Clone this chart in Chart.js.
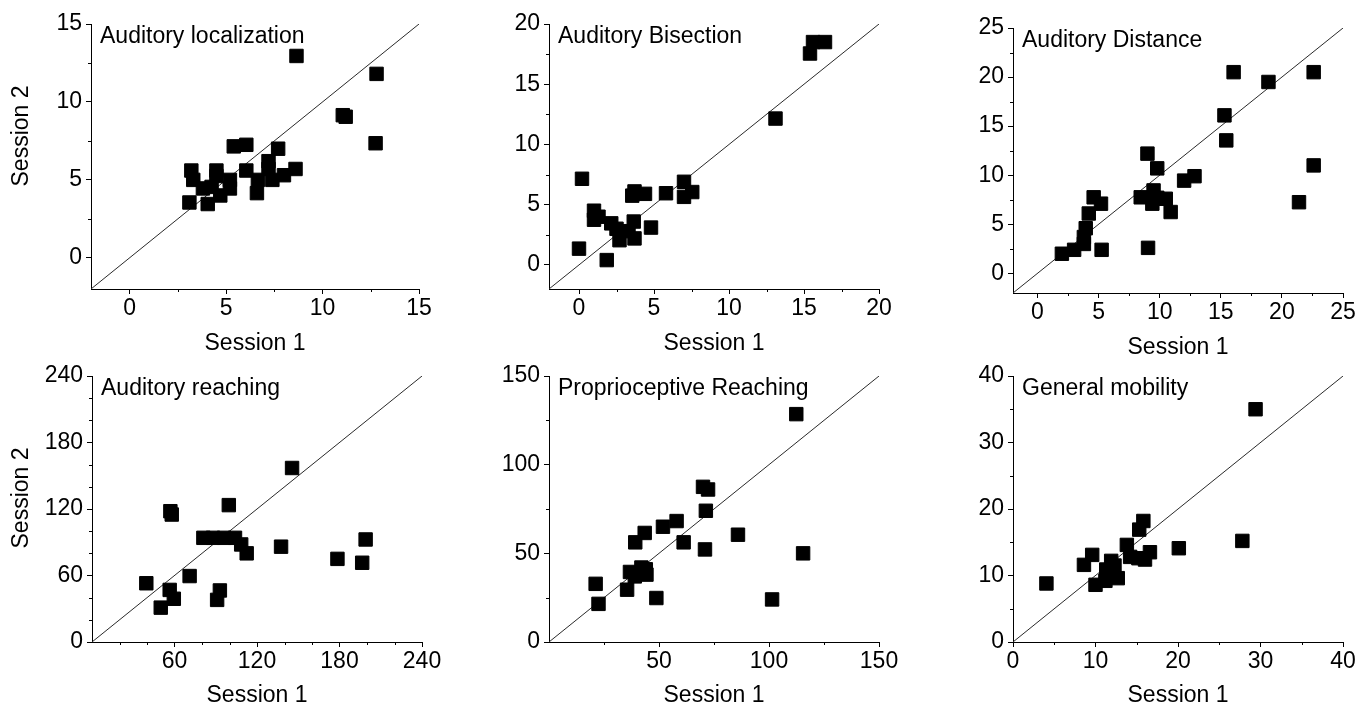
<!DOCTYPE html>
<html>
<head>
<meta charset="utf-8">
<script src="https://cdn.jsdelivr.net/npm/chart.js@4.4.1/dist/chart.umd.min.js"></script>
<style>
  html, body { margin: 0; padding: 0; background: #fff; overflow: hidden; }
  body { position: relative; width: 1370px; height: 707px; }
</style>
</head>
<body>
<script>
// ---------- DATA ----------
const panelTitles = ["Auditory localization", "Auditory Bisection", "Auditory Distance",
                     "Auditory reaching", "Proprioceptive Reaching", "General mobility"];
const xAxisTitle = "Session 1";
const yAxisTitle = "Session 2";

// Auditory localization
const locS1 = [8.65, 12.8, 11.05, 11.2, 12.75, 5.4, 6.05, 7.7, 7.2, 7.2, 8.6, 8.0, 6.65, 6.6, 6.05, 4.5, 4.5, 3.2, 3.3, 3.1, 4.05, 4.25, 5.2, 5.2, 4.7, 7.4, 3.8];
const locS2 = [12.95, 11.8, 9.15, 9.05, 7.35, 7.15, 7.25, 7.0, 6.2, 5.7, 5.7, 5.3, 5.0, 4.15, 5.6, 5.6, 5.25, 5.6, 5.0, 3.55, 3.45, 4.55, 5.0, 4.45, 4.0, 5.0, 4.45];
// Auditory Bisection
const bisS1 = [0.2, 0.0, 1.85, 1.0, 1.0, 1.3, 2.15, 2.5, 2.7, 3.3, 3.65, 3.7, 4.8, 3.55, 3.7, 4.4, 5.8, 7.0, 7.0, 7.55, 13.1, 15.4, 15.6, 16.4];
const bisS2 = [7.15, 1.35, 0.4, 4.5, 3.75, 4.0, 3.45, 3.0, 2.05, 2.8, 3.6, 2.2, 3.1, 5.75, 6.1, 5.9, 5.95, 6.9, 5.65, 6.05, 12.15, 17.55, 18.5, 18.5];
// Auditory Distance
const disS1 = [2.0, 3.0, 3.8, 3.8, 3.95, 4.2, 4.6, 5.2, 5.25, 8.45, 9.0, 9.05, 9.4, 9.5, 9.8, 9.8, 10.5, 10.9, 12.0, 12.85, 15.3, 15.45, 16.05, 18.9, 21.4, 22.6, 22.6];
const disS2 = [2.0, 2.4, 3.0, 3.7, 4.6, 6.1, 7.75, 7.1, 2.4, 7.75, 12.2, 2.6, 7.1, 8.45, 7.7, 10.7, 7.6, 6.25, 9.45, 9.9, 16.1, 13.55, 20.5, 19.5, 7.25, 20.5, 11.0];
// Auditory reaching
const reaS1 = [39.5, 50, 56.5, 59.5, 57, 58, 71, 81, 88, 91, 93, 96, 99.5, 104, 108.5, 112.5, 137.5, 145.5, 178.5, 196.5, 199];
const reaS2 = [53, 31, 47, 39, 118, 115, 59.5, 94, 94, 38, 46.5, 94, 123.5, 94, 88, 80, 86, 157, 75, 71.5, 92.5];
// Proprioceptive Reaching
const proS1 = [21.2, 22.5, 35.5, 36.8, 39, 42, 44.3, 44, 39.2, 43.5, 48.8, 51.8, 58, 61.2, 70, 72.3, 71.3, 70.9, 85.9, 101.4, 112.4, 115.5];
const proS2 = [32.8, 21.5, 29.5, 39.5, 37, 42, 38, 41, 56.2, 61.5, 24.8, 65, 68.2, 56.2, 87.5, 86, 74, 52.2, 60.5, 24, 128.5, 50];
// General mobility
const mobS1 = [4.05, 8.6, 9.6, 10.0, 11.2, 11.3, 11.9, 12.7, 12.3, 13.8, 14.2, 15.3, 15.8, 15.2, 16.0, 16.6, 20.1, 27.8, 29.4];
const mobS2 = [8.8, 11.6, 13.1, 8.6, 9.2, 10.9, 12.2, 9.6, 11.5, 14.6, 12.8, 16.9, 18.2, 12.6, 12.4, 13.5, 14.1, 15.2, 35.0];

// Axis ranges and tick labels
const rangeLoc = [-2, 15], rangeBis = [-2, 20], rangeDis = [-2, 25];
const rangeRea = [0, 240], rangePro = [0, 150], rangeMob = [0, 40];
const ticksLoc = [0, 5, 10, 15],        minorLoc = [2.5, 7.5, 12.5];
const ticksBis = [0, 5, 10, 15, 20],    minorBis = [2.5, 7.5, 12.5, 17.5];
const ticksDis = [0, 5, 10, 15, 20, 25], minorDis = [2.5, 7.5, 12.5, 17.5, 22.5];
const ticksReaX = [60, 120, 180, 240], ticksReaY = [0, 60, 120, 180, 240];
const minorRea = [20, 40, 80, 100, 140, 160, 200, 220];
const ticksProX = [50, 100, 150], ticksProY = [0, 50, 100, 150], minorPro = [25, 75, 125];
const ticksMob = [0, 10, 20, 30, 40], minorMob = [5, 15, 25, 35];

// ---------- LAYOUT ----------
const FAMILY = "'Liberation Sans', Arial, Helvetica, sans-serif";
const FS = 23;
const panels = [
  { title: panelTitles[0], s1: locS1, s2: locS2, range: rangeLoc, xt: ticksLoc, yt: ticksLoc, minor: minorLoc,
    box: [0, 0, 460, 357], area: [91, 24, 419, 289], yTitle: [22, 136] },
  { title: panelTitles[1], s1: bisS1, s2: bisS2, range: rangeBis, xt: ticksBis, yt: ticksBis, minor: minorBis,
    box: [460, 0, 455, 357], area: [549, 24, 879, 289] },
  { title: panelTitles[2], s1: disS1, s2: disS2, range: rangeDis, xt: ticksDis, yt: ticksDis, minor: minorDis,
    box: [915, 0, 455, 361], area: [1013, 28, 1343, 293] },
  { title: panelTitles[3], s1: reaS1, s2: reaS2, range: rangeRea, xt: ticksReaX, yt: ticksReaY, minor: minorRea,
    box: [0, 357, 460, 352], area: [92, 376, 422, 642], yTitle: [22, 498] },
  { title: panelTitles[4], s1: proS1, s2: proS2, range: rangePro, xt: ticksProX, yt: ticksProY, minor: minorPro,
    box: [460, 357, 455, 352], area: [549, 376, 879, 642] },
  { title: panelTitles[5], s1: mobS1, s2: mobS2, range: rangeMob, xt: ticksMob, yt: ticksMob, minor: minorMob,
    box: [915, 357, 455, 352], area: [1013, 376, 1343, 642] }
];

const decorPlugin = {
  id: 'decor',
  afterDraw(chart, args, o) {
    const { ctx, chartArea: a, scales: { x, y } } = chart;
    ctx.save();
    ctx.strokeStyle = '#000';
    ctx.lineWidth = 1;
    // minor ticks
    o.minor.forEach(v => {
      const px = Math.round(x.getPixelForValue(v)) + 0.5;
      ctx.beginPath(); ctx.moveTo(px, a.bottom); ctx.lineTo(px, a.bottom + 3); ctx.stroke();
      const py = Math.round(y.getPixelForValue(v)) + 0.5;
      ctx.beginPath(); ctx.moveTo(a.left, py); ctx.lineTo(a.left - 3, py); ctx.stroke();
    });
    ctx.fillStyle = '#000';
    ctx.font = FS + 'px ' + FAMILY;
    ctx.textAlign = 'left';
    ctx.textBaseline = 'alphabetic';
    ctx.fillText(o.title, a.left + 9, a.top + 18.5);
    if (o.yTitle) {
      ctx.translate(o.yTitle[0], o.yTitle[1]);
      ctx.rotate(-Math.PI / 2);
      ctx.textAlign = 'center';
      ctx.textBaseline = 'middle';
      ctx.fillText(o.yText, 0, 0);
    }
    ctx.restore();
  }
};

panels.forEach(p => {
  const [cx, cy, cw, ch] = p.box;
  const [L, T, R, B] = p.area;
  const canvas = document.createElement('canvas');
  canvas.width = cw; canvas.height = ch;
  canvas.style.cssText = `position:absolute;left:${cx}px;top:${cy}px;width:${cw}px;height:${ch}px;`;
  document.body.appendChild(canvas);

  const scale = (majors, extra) => Object.assign({
    type: 'linear', min: p.range[0], max: p.range[1],
    border: { display: true, color: '#000', width: 1 },
    grid: { display: true, drawOnChartArea: false, drawTicks: true, tickLength: 5, tickColor: '#000', tickWidth: 1 },
    afterBuildTicks: s => { s.ticks = majors.map(v => ({ value: v })); }
  }, extra);

  new Chart(canvas, {
    type: 'scatter',
    data: {
      datasets: [
        { data: [{ x: p.range[0], y: p.range[0] }, { x: p.range[1], y: p.range[1] }],
          showLine: true, borderColor: '#2a2a2a', borderWidth: 1, pointRadius: 0, order: 2 },
        { data: p.s1.map((v, i) => ({ x: v, y: p.s2[i] })),
          pointStyle: 'rect', pointRadius: 9.5, backgroundColor: '#000', borderColor: '#000', borderWidth: 1, order: 1 }
      ]
    },
    options: {
      responsive: false, animation: false, devicePixelRatio: 1,
      layout: { padding: { left: 0, top: T - cy, right: cx + cw - R, bottom: 0 } },
      plugins: { legend: { display: false }, tooltip: { enabled: false },
        decor: { title: p.title, minor: p.minor, yTitle: p.yTitle ? [p.yTitle[0] - cx, p.yTitle[1] - cy] : null, yText: yAxisTitle } },
      scales: {
        x: scale(p.xt, { position: 'bottom',
          ticks: { color: '#000', font: { family: FAMILY, size: FS }, autoSkip: false, maxRotation: 0, padding: 1, callback: v => String(v) },
          title: { display: true, text: xAxisTitle, color: '#000', font: { family: FAMILY, size: FS }, padding: 0 },
          afterFit: s => { s.height = ch - (B - cy); } }),
        y: scale(p.yt, { position: 'left',
          ticks: { color: '#000', font: { family: FAMILY, size: FS }, autoSkip: false, padding: 4, callback: v => String(v) },
          afterFit: s => { s.width = L - cx; } })
      }
    },
    plugins: [decorPlugin]
  });
});
</script>
</body>
</html>
